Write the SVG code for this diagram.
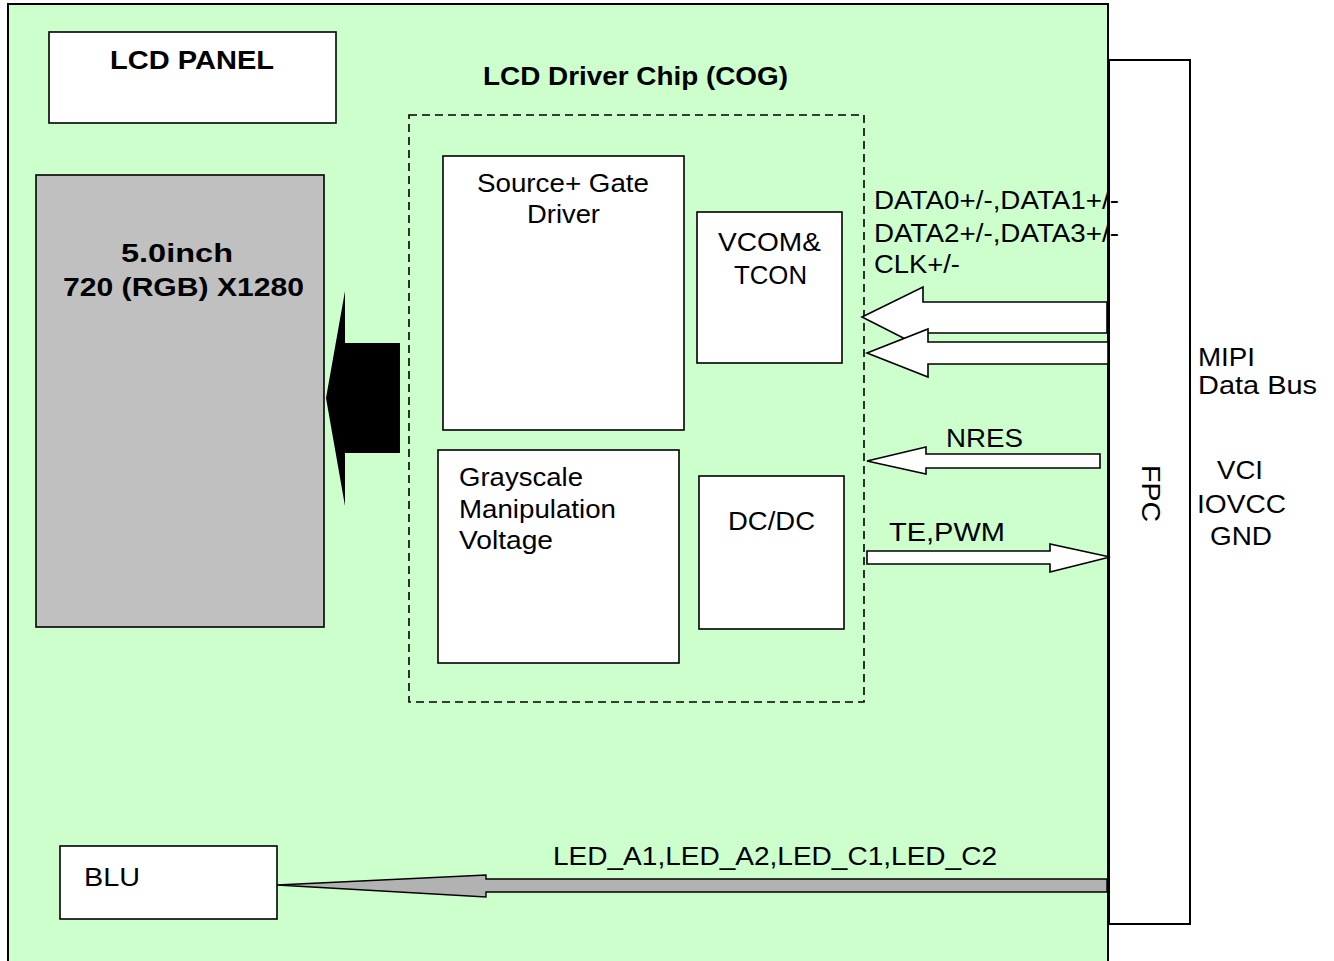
<svg xmlns="http://www.w3.org/2000/svg" width="1334" height="961" viewBox="0 0 1334 961">
<style>
.box{fill:#fff;stroke:#000;stroke-width:1.6}
.t{font-family:"Liberation Sans",Arial,sans-serif;font-size:26px;fill:#000}
.b{font-family:"Liberation Sans",Arial,sans-serif;font-size:25px;font-weight:bold;fill:#000}
.arr{fill:#fff;stroke:#000;stroke-width:1.6;stroke-linejoin:miter}
</style>
<rect width="1334" height="961" fill="#fff"/>
<g id="board">
<rect x="8" y="4" width="1100" height="965" fill="#CCFFCC" stroke="#000" stroke-width="2"/>
</g>
<g id="fpc">
<rect x="1109" y="60" width="81" height="864" fill="#fff" stroke="#000" stroke-width="2"/>
<text class="t" transform="translate(1142,465) rotate(90)" textLength="57" lengthAdjust="spacingAndGlyphs">FPC</text>
</g>
<g id="lcd-panel">
<rect class="box" x="49" y="32" width="287" height="91"/>
<text class="b" x="110" y="69" textLength="164" lengthAdjust="spacingAndGlyphs">LCD PANEL</text>
</g>
<g id="chip-title">
<text class="b" x="483" y="85" textLength="305" lengthAdjust="spacingAndGlyphs">LCD Driver Chip (COG)</text>
</g>
<g id="display">
<rect x="36" y="175" width="288" height="452" fill="#C0C0C0" stroke="#000" stroke-width="1.6"/>
<text class="b" x="121" y="262" textLength="112" lengthAdjust="spacingAndGlyphs">5.0inch</text>
<text class="b" x="63" y="296" textLength="241" lengthAdjust="spacingAndGlyphs">720 (RGB) X1280</text>
</g>
<g id="chip">
<rect x="409" y="115" width="455" height="587" fill="none" stroke="#000" stroke-width="1.6" stroke-dasharray="8,5"/>
</g>
<g id="source-gate">
<rect class="box" x="443" y="156" width="241" height="274"/>
<text class="t" x="477" y="192" textLength="172" lengthAdjust="spacingAndGlyphs">Source+ Gate</text>
<text class="t" x="527" y="223" textLength="73" lengthAdjust="spacingAndGlyphs">Driver</text>
</g>
<g id="vcom">
<rect class="box" x="697" y="212" width="145" height="151"/>
<text class="t" x="718" y="251" textLength="103" lengthAdjust="spacingAndGlyphs">VCOM&amp;</text>
<text class="t" x="734" y="284" textLength="73" lengthAdjust="spacingAndGlyphs">TCON</text>
</g>
<g id="grayscale">
<rect class="box" x="438" y="450" width="241" height="213"/>
<text class="t" x="459" y="486" textLength="124" lengthAdjust="spacingAndGlyphs">Grayscale</text>
<text class="t" x="459" y="518" textLength="157" lengthAdjust="spacingAndGlyphs">Manipulation</text>
<text class="t" x="459" y="549" textLength="94" lengthAdjust="spacingAndGlyphs">Voltage</text>
</g>
<g id="dcdc">
<rect class="box" x="699" y="476" width="145" height="153"/>
<text class="t" x="728" y="530" textLength="87" lengthAdjust="spacingAndGlyphs">DC/DC</text>
</g>
<g id="blu">
<rect class="box" x="60" y="846" width="217" height="73"/>
<text class="t" x="84" y="886" textLength="56" lengthAdjust="spacingAndGlyphs">BLU</text>
</g>
<g id="connectors">
<polygon points="326,398 345,291 345,343 400,343 400,453 345,453 345,506" fill="#000"/>
<polygon class="arr" points="862,317 923,287 923,302 1107,302 1107,333 923,333 923,348"/>
<polygon class="arr" points="867,353 928,329 928,342 1108,342 1108,364 928,364 928,377"/>
<polygon class="arr" points="867,461 926,447 926,454 1100,454 1100,468 926,468 926,474"/>
<polygon class="arr" points="867,551 1050,551 1050,544 1110,557 1050,572 1050,564 867,564"/>
<polygon points="277,885 486,875 486,879 1107,879 1107,892 486,892 486,897" fill="#B2B2B2" stroke="#000" stroke-width="1.4"/>
</g>
<g id="labels">
<text class="t" x="874" y="209" textLength="245" lengthAdjust="spacingAndGlyphs">DATA0+/-,DATA1+/-</text>
<text class="t" x="874" y="242" textLength="245" lengthAdjust="spacingAndGlyphs">DATA2+/-,DATA3+/-</text>
<text class="t" x="874" y="273" textLength="86" lengthAdjust="spacingAndGlyphs">CLK+/-</text>
<text class="t" x="946" y="447" textLength="77" lengthAdjust="spacingAndGlyphs">NRES</text>
<text class="t" x="889" y="541" textLength="116" lengthAdjust="spacingAndGlyphs">TE,PWM</text>
<text class="t" x="553" y="865" textLength="444" lengthAdjust="spacingAndGlyphs">LED_A1,LED_A2,LED_C1,LED_C2</text>
<text class="t" x="1198" y="366" textLength="57" lengthAdjust="spacingAndGlyphs">MIPI</text>
<text class="t" x="1198" y="394" textLength="119" lengthAdjust="spacingAndGlyphs">Data Bus</text>
<text class="t" x="1217" y="479" textLength="46" lengthAdjust="spacingAndGlyphs">VCI</text>
<text class="t" x="1197" y="513" textLength="89" lengthAdjust="spacingAndGlyphs">IOVCC</text>
<text class="t" x="1210" y="545" textLength="62" lengthAdjust="spacingAndGlyphs">GND</text>
</g>
</svg>
